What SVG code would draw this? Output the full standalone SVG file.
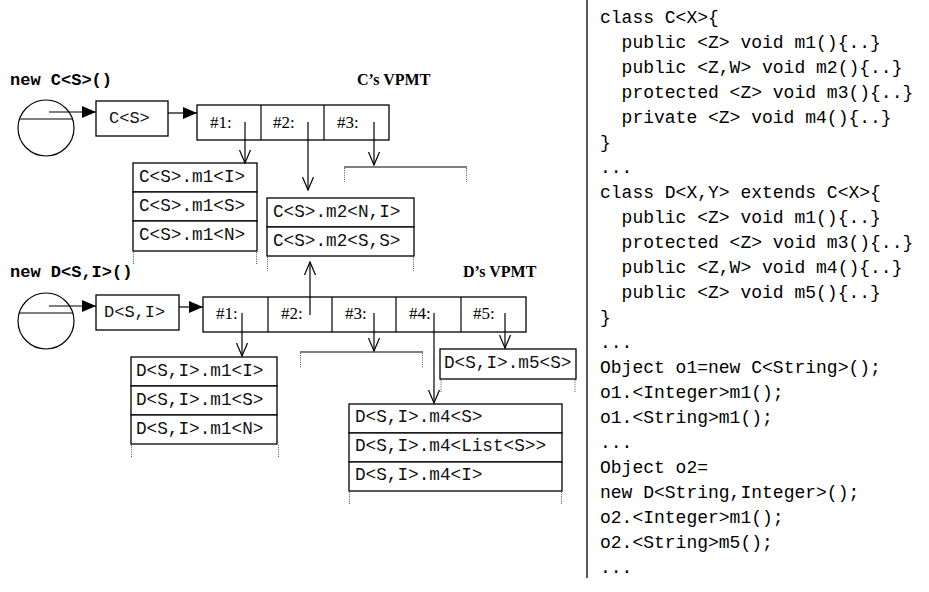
<svg xmlns="http://www.w3.org/2000/svg" width="929" height="592" viewBox="0 0 929 592">
  <style>
    .box { fill: #fff; stroke: #000; stroke-width: 1.3; }
    .ln { fill: none; stroke: #000; stroke-width: 1.2; }
    .dot { fill: none; stroke: #555; stroke-width: 1; stroke-dasharray: 1 1.2; }
    .mono { font-family: "Liberation Mono", "Courier New", monospace; font-size: 17.7px; fill: #111; }
    .tag { font-family: "Liberation Mono", "Courier New", monospace; font-size: 17px; fill: #111; }
    .hdr { font-family: "Liberation Mono", "Courier New", monospace; font-size: 17px; font-weight: bold; fill: #000; }
    .ttl { font-family: "Liberation Serif", "Times New Roman", serif; font-size: 16px; font-weight: bold; fill: #000; }
    .slot { font-family: "Liberation Serif", "Times New Roman", serif; font-size: 17px; fill: #000; }
    .code { font-family: "Liberation Mono", "Courier New", monospace; font-size: 18px; fill: #000; }
  </style>
  <defs>
    <marker id="tri" markerWidth="15" markerHeight="12" refX="14" refY="6" orient="auto" markerUnits="userSpaceOnUse">
      <path d="M0,0 L14,6 L0,12 z" fill="#000"/>
    </marker>
    <marker id="vee" markerWidth="16" markerHeight="14" refX="13" refY="7" orient="auto" markerUnits="userSpaceOnUse">
      <path d="M0,1.5 L13,7 L0,12.5" fill="none" stroke="#000" stroke-width="1.2"/>
    </marker>
  </defs>

  <!-- object references -->
  <g id="newC">
    <text class="hdr" x="10" y="85">new C&lt;S&gt;()</text>
    <circle class="ln" cx="46" cy="128" r="28"/>
    <line class="ln" x1="19" y1="119" x2="73" y2="119"/>
  </g>
  <g id="newD">
    <text class="hdr" x="10" y="277">new D&lt;S,I&gt;()</text>
    <circle class="ln" cx="46" cy="321" r="28"/>
    <line class="ln" x1="19" y1="313" x2="73" y2="313"/>
  </g>

  <!-- runtime type objects -->
  <g id="typeCS">
    <rect class="box" x="96" y="101" width="72" height="35"/>
    <text class="tag" x="109" y="123">C&lt;S&gt;</text>
  </g>
  <g id="typeDSI">
    <rect class="box" x="96" y="295" width="83" height="35"/>
    <text class="tag" x="104" y="317">D&lt;S,I&gt;</text>
  </g>

  <!-- C's virtual polymorphic method table -->
  <g id="vpmtC">
    <text class="ttl" x="357" y="85">C’s VPMT</text>
    <rect class="box" x="197" y="105" width="192" height="35"/>
    <line class="ln" x1="261" y1="105" x2="261" y2="140"/>
    <line class="ln" x1="324" y1="105" x2="324" y2="140"/>
    <text class="slot" x="210" y="128">#1:</text>
    <text class="slot" x="273" y="128">#2:</text>
    <text class="slot" x="337" y="128">#3:</text>
  </g>

  <!-- D's virtual polymorphic method table -->
  <g id="vpmtD">
    <text class="ttl" x="463" y="277">D’s VPMT</text>
    <rect class="box" x="203" y="297" width="323" height="35"/>
    <line class="ln" x1="268" y1="297" x2="268" y2="332"/>
    <line class="ln" x1="332" y1="297" x2="332" y2="332"/>
    <line class="ln" x1="396" y1="297" x2="396" y2="332"/>
    <line class="ln" x1="461" y1="297" x2="461" y2="332"/>
    <text class="slot" x="216" y="319">#1:</text>
    <text class="slot" x="281" y="319">#2:</text>
    <text class="slot" x="345" y="319">#3:</text>
    <text class="slot" x="409" y="319">#4:</text>
    <text class="slot" x="473" y="319">#5:</text>
  </g>

  <!-- specialised method tables -->
  <g id="tblCm1">
    <rect class="box" x="133" y="163" width="124" height="29"/>
    <rect class="box" x="133" y="192" width="124" height="29"/>
    <rect class="box" x="133" y="221" width="124" height="30"/>
    <text class="mono" x="139" y="182">C&lt;S&gt;.m1&lt;I&gt;</text>
    <text class="mono" x="139" y="211">C&lt;S&gt;.m1&lt;S&gt;</text>
    <text class="mono" x="139" y="240">C&lt;S&gt;.m1&lt;N&gt;</text>
    <line class="dot" x1="133.5" y1="252" x2="133.5" y2="265"/>
    <line class="dot" x1="256.5" y1="252" x2="256.5" y2="265"/>
  </g>
  <g id="tblCm2">
    <rect class="box" x="267" y="198" width="147" height="29"/>
    <rect class="box" x="267" y="227" width="147" height="29"/>
    <text class="mono" x="273" y="217">C&lt;S&gt;.m2&lt;N,I&gt;</text>
    <text class="mono" x="273" y="246">C&lt;S&gt;.m2&lt;S,S&gt;</text>
    <line class="dot" x1="267.5" y1="257" x2="267.5" y2="271"/>
    <line class="dot" x1="413.5" y1="257" x2="413.5" y2="271"/>
  </g>
  <g id="tblCm3">
    <line class="ln" x1="344" y1="167" x2="467" y2="167"/>
    <line class="dot" x1="344.5" y1="168" x2="344.5" y2="182"/>
    <line class="dot" x1="466.5" y1="168" x2="466.5" y2="182"/>
  </g>
  <g id="tblDm1">
    <rect class="box" x="131" y="357" width="146" height="29"/>
    <rect class="box" x="131" y="386" width="146" height="29"/>
    <rect class="box" x="131" y="415" width="146" height="29"/>
    <text class="mono" x="136" y="376">D&lt;S,I&gt;.m1&lt;I&gt;</text>
    <text class="mono" x="136" y="405">D&lt;S,I&gt;.m1&lt;S&gt;</text>
    <text class="mono" x="136" y="434">D&lt;S,I&gt;.m1&lt;N&gt;</text>
    <line class="dot" x1="131.5" y1="445" x2="131.5" y2="458"/>
    <line class="dot" x1="278.5" y1="445" x2="278.5" y2="458"/>
  </g>
  <g id="tblDm3">
    <line class="ln" x1="300" y1="352" x2="423" y2="352"/>
    <line class="dot" x1="300.5" y1="353" x2="300.5" y2="368"/>
    <line class="dot" x1="422.5" y1="353" x2="422.5" y2="368"/>
  </g>
  <g id="tblDm4">
    <rect class="box" x="349" y="404" width="213" height="29"/>
    <rect class="box" x="349" y="433" width="213" height="29"/>
    <rect class="box" x="349" y="462" width="213" height="29"/>
    <text class="mono" x="355" y="422">D&lt;S,I&gt;.m4&lt;S&gt;</text>
    <text class="mono" x="355" y="451">D&lt;S,I&gt;.m4&lt;List&lt;S&gt;&gt;</text>
    <text class="mono" x="355" y="480">D&lt;S,I&gt;.m4&lt;I&gt;</text>
    <line class="dot" x1="349.5" y1="492" x2="349.5" y2="505"/>
    <line class="dot" x1="561.5" y1="492" x2="561.5" y2="505"/>
  </g>
  <g id="tblDm5">
    <rect class="box" x="440" y="349" width="136" height="30"/>
    <text class="mono" x="444" y="368">D&lt;S,I&gt;.m5&lt;S&gt;</text>
    <line class="dot" x1="441" y1="380" x2="441" y2="393"/>
    <line class="dot" x1="575" y1="380" x2="575" y2="393"/>
  </g>

  <!-- pointers -->
  <g id="connectors">
    <line class="ln" x1="49" y1="112" x2="96" y2="112" marker-end="url(#tri)"/>
    <line class="ln" x1="168" y1="113" x2="197" y2="113" marker-end="url(#tri)"/>
    <line class="ln" x1="49" y1="306" x2="96" y2="306" marker-end="url(#tri)"/>
    <line class="ln" x1="179" y1="307" x2="203" y2="307" marker-end="url(#tri)"/>

    <line class="ln" x1="245" y1="122" x2="245" y2="163" marker-end="url(#vee)"/>
    <line class="ln" x1="308" y1="122" x2="308" y2="190" marker-end="url(#vee)"/>
    <line class="ln" x1="374" y1="122" x2="374" y2="165" marker-end="url(#vee)"/>

    <line class="ln" x1="242" y1="313" x2="242" y2="356" marker-end="url(#vee)"/>
    <line class="ln" x1="310" y1="315" x2="310" y2="262" marker-end="url(#vee)"/>
    <line class="ln" x1="374" y1="313" x2="374" y2="351" marker-end="url(#vee)"/>
    <line class="ln" x1="434" y1="313" x2="434" y2="403" marker-end="url(#vee)"/>
    <line class="ln" x1="505" y1="313" x2="505" y2="348" marker-end="url(#vee)"/>
  </g>

  <!-- source listing -->
  <g id="listing">
    <line x1="587" y1="0" x2="587" y2="578" stroke="#000" stroke-width="1.3"/>
    <text class="code" x="600" y="23">class C&lt;X&gt;{</text>
    <text class="code" x="621.6" y="48">public &lt;Z&gt; void m1(){..}</text>
    <text class="code" x="621.6" y="73">public &lt;Z,W&gt; void m2(){..}</text>
    <text class="code" x="621.6" y="98">protected &lt;Z&gt; void m3(){..}</text>
    <text class="code" x="621.6" y="123">private &lt;Z&gt; void m4(){..}</text>
    <text class="code" x="600" y="148">}</text>
    <text class="code" x="600" y="173">...</text>
    <text class="code" x="600" y="198">class D&lt;X,Y&gt; extends C&lt;X&gt;{</text>
    <text class="code" x="621.6" y="223">public &lt;Z&gt; void m1(){..}</text>
    <text class="code" x="621.6" y="248">protected &lt;Z&gt; void m3(){..}</text>
    <text class="code" x="621.6" y="273">public &lt;Z,W&gt; void m4(){..}</text>
    <text class="code" x="621.6" y="298">public &lt;Z&gt; void m5(){..}</text>
    <text class="code" x="600" y="323">}</text>
    <text class="code" x="600" y="348">...</text>
    <text class="code" x="600" y="373">Object o1=new C&lt;String&gt;();</text>
    <text class="code" x="600" y="398">o1.&lt;Integer&gt;m1();</text>
    <text class="code" x="600" y="423">o1.&lt;String&gt;m1();</text>
    <text class="code" x="600" y="448">...</text>
    <text class="code" x="600" y="473">Object o2=</text>
    <text class="code" x="600" y="498">new D&lt;String,Integer&gt;();</text>
    <text class="code" x="600" y="523">o2.&lt;Integer&gt;m1();</text>
    <text class="code" x="600" y="548">o2.&lt;String&gt;m5();</text>
    <text class="code" x="600" y="573">...</text>
  </g>
</svg>
